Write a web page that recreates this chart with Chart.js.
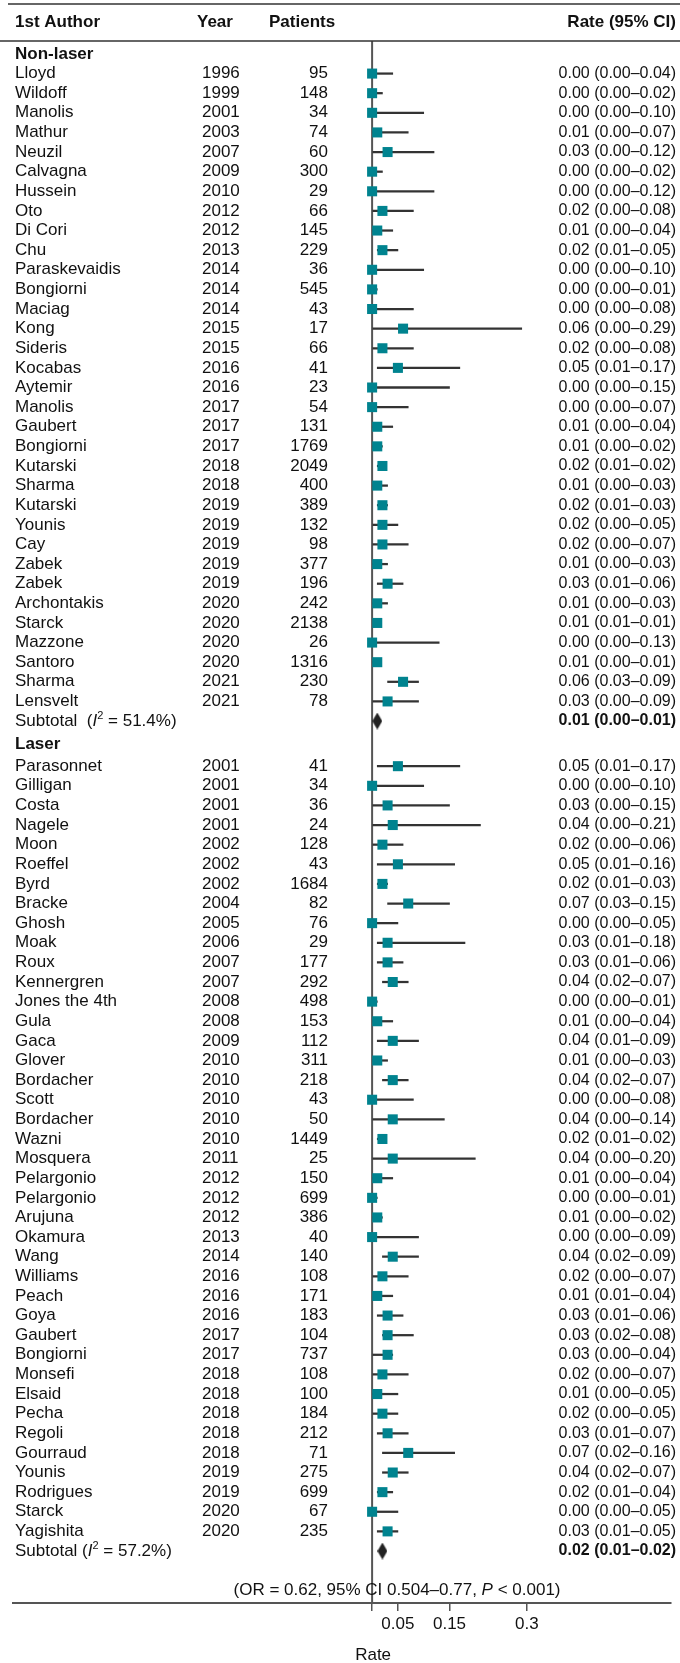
<!DOCTYPE html>
<html>
<head>
<meta charset="utf-8">
<title>Forest plot</title>
<script src="https://cdn.jsdelivr.net/npm/chart.js@4.4.1/dist/chart.umd.min.js"></script>
<style>
  html, body { margin: 0; padding: 0; background: #fff; }
  canvas { display: block; }
</style>
</head>
<body>
<canvas id="forest" width="680" height="1663"></canvas>
<script>
// ---- Non-laser studies ----
const nonLaserAuthors = ['Lloyd','Wildoff','Manolis','Mathur','Neuzil','Calvagna','Hussein','Oto','Di Cori','Chu',
  'Paraskevaidis','Bongiorni','Maciag','Kong','Sideris','Kocabas','Aytemir','Manolis','Gaubert','Bongiorni',
  'Kutarski','Sharma','Kutarski','Younis','Cay','Zabek','Zabek','Archontakis','Starck','Mazzone',
  'Santoro','Sharma','Lensvelt'];
const nonLaserYears = [1996,1999,2001,2003,2007,2009,2010,2012,2012,2013,
  2014,2014,2014,2015,2015,2016,2016,2017,2017,2017,
  2018,2018,2019,2019,2019,2019,2019,2020,2020,2020,
  2020,2021,2021];
const nonLaserPatients = [95,148,34,74,60,300,29,66,145,229,
  36,545,43,17,66,41,23,54,131,1769,
  2049,400,389,132,98,377,196,242,2138,26,
  1316,230,78];
const nonLaserRate = [0.00,0.00,0.00,0.01,0.03,0.00,0.00,0.02,0.01,0.02,
  0.00,0.00,0.00,0.06,0.02,0.05,0.00,0.00,0.01,0.01,
  0.02,0.01,0.02,0.02,0.02,0.01,0.03,0.01,0.01,0.00,
  0.01,0.06,0.03];
const nonLaserLow = [0.00,0.00,0.00,0.00,0.00,0.00,0.00,0.00,0.00,0.01,
  0.00,0.00,0.00,0.00,0.00,0.01,0.00,0.00,0.00,0.00,
  0.01,0.00,0.01,0.00,0.00,0.00,0.01,0.00,0.01,0.00,
  0.00,0.03,0.00];
const nonLaserHigh = [0.04,0.02,0.10,0.07,0.12,0.02,0.12,0.08,0.04,0.05,
  0.10,0.01,0.08,0.29,0.08,0.17,0.15,0.07,0.04,0.02,
  0.02,0.03,0.03,0.05,0.07,0.03,0.06,0.03,0.01,0.13,
  0.01,0.09,0.09];

// ---- Laser studies ----
const laserAuthors = ['Parasonnet','Gilligan','Costa','Nagele','Moon','Roeffel','Byrd','Bracke','Ghosh','Moak',
  'Roux','Kennergren','Jones the 4th','Gula','Gaca','Glover','Bordacher','Scott','Bordacher','Wazni',
  'Mosquera','Pelargonio','Pelargonio','Arujuna','Okamura','Wang','Williams','Peach','Goya','Gaubert',
  'Bongiorni','Monsefi','Elsaid','Pecha','Regoli','Gourraud','Younis','Rodrigues','Starck','Yagishita'];
const laserYears = [2001,2001,2001,2001,2002,2002,2002,2004,2005,2006,
  2007,2007,2008,2008,2009,2010,2010,2010,2010,2010,
  2011,2012,2012,2012,2013,2014,2016,2016,2016,2017,
  2017,2018,2018,2018,2018,2018,2019,2019,2020,2020];
const laserPatients = [41,34,36,24,128,43,1684,82,76,29,
  177,292,498,153,112,311,218,43,50,1449,
  25,150,699,386,40,140,108,171,183,104,
  737,108,100,184,212,71,275,699,67,235];
const laserRate = [0.05,0.00,0.03,0.04,0.02,0.05,0.02,0.07,0.00,0.03,
  0.03,0.04,0.00,0.01,0.04,0.01,0.04,0.00,0.04,0.02,
  0.04,0.01,0.00,0.01,0.00,0.04,0.02,0.01,0.03,0.03,
  0.03,0.02,0.01,0.02,0.03,0.07,0.04,0.02,0.00,0.03];
const laserLow = [0.01,0.00,0.00,0.00,0.00,0.01,0.01,0.03,0.00,0.01,
  0.01,0.02,0.00,0.00,0.01,0.00,0.02,0.00,0.00,0.01,
  0.00,0.00,0.00,0.00,0.00,0.02,0.00,0.01,0.01,0.02,
  0.00,0.00,0.00,0.00,0.01,0.02,0.02,0.01,0.00,0.01];
const laserHigh = [0.17,0.10,0.15,0.21,0.06,0.16,0.03,0.15,0.05,0.18,
  0.06,0.07,0.01,0.04,0.09,0.03,0.07,0.08,0.14,0.02,
  0.20,0.04,0.01,0.02,0.09,0.09,0.07,0.04,0.06,0.08,
  0.04,0.07,0.05,0.05,0.07,0.16,0.07,0.04,0.05,0.05];

// ---- Pooled estimates per group ----
const groupNames = ['Non-laser', 'Laser'];
const groupI2 = [51.4, 57.2];
const subtotalRate = [0.01, 0.02];
const subtotalLow = [0.00, 0.01];
const subtotalHigh = [0.01, 0.02];

// ---- Axis ----
const xTickValues = [0, 0.05, 0.15, 0.3];
const xTickLabels = ['', '0.05', '0.15', '0.3'];
const xAxisTitle = 'Rate';

// ---- Column headers and footnote ----
const columnHeaders = ['1st Author', 'Year', 'Patients', 'Rate (95% CI)'];
const comparisonNote = ['(OR = 0.62, 95% CI 0.504\u20130.77, ', 'P', ' < 0.001)'];

// Build row positions (one unit per table row, a little extra room around the second heading)
const groups = [
  { name: groupNames[0], authors: nonLaserAuthors, years: nonLaserYears, patients: nonLaserPatients,
    rate: nonLaserRate, low: nonLaserLow, high: nonLaserHigh, i2: groupI2[0], gap: '  ',
    sub: [subtotalRate[0], subtotalLow[0], subtotalHigh[0]] },
  { name: groupNames[1], authors: laserAuthors, years: laserYears, patients: laserPatients,
    rate: laserRate, low: laserLow, high: laserHigh, i2: groupI2[1], gap: ' ',
    sub: [subtotalRate[1], subtotalLow[1], subtotalHigh[1]] }
];
let rowCursor = 0;
groups.forEach((g, k) => {
  if (k > 0) rowCursor += 1.2;
  g.headingRow = rowCursor;
  rowCursor += (k > 0 ? 1.1 : 1);
  g.rows = g.authors.map((_, i) => rowCursor + i);
  rowCursor += g.authors.length;
  g.subtotalRow = rowCursor;
});
const headerRow = -1.6;
const noteRow = groups[1].subtotalRow + 2;

const fmt = v => v.toFixed(2);
const ciText = (r, lo, hi) => `${fmt(r)} (${fmt(lo)}\u2013${fmt(hi)})`;

// Dataset points
const whiskers = [];
const squares = [];
const diamonds = [];
groups.forEach(g => {
  g.rows.forEach((row, i) => {
    whiskers.push({ y: row, x: [g.low[i], g.high[i]] });
    squares.push({ x: g.rate[i], y: row });
  });
  diamonds.push({ x: g.sub[0], y: g.subtotalRow });
});

// Diamond marker for pooled estimates
const diamondImg = document.createElement('canvas');
diamondImg.width = 10; diamondImg.height = 17;
(() => {
  const c = diamondImg.getContext('2d');
  c.fillStyle = '#222';
  c.beginPath();
  c.moveTo(5, 0); c.lineTo(10, 8.5); c.lineTo(5, 17); c.lineTo(0, 8.5);
  c.closePath(); c.fill();
})();

const FONT = "'Liberation Sans', Arial, Helvetica, sans-serif";
const TEXT = '#111';

function drawRuns(ctx, x, y, runs, align) {
  let total = 0;
  runs.forEach(r => { ctx.font = r.font; total += ctx.measureText(r.t).width; });
  let cx = align === 'center' ? x - total / 2 : (align === 'right' ? x - total : x);
  runs.forEach(r => {
    ctx.font = r.font;
    ctx.textAlign = 'left';
    ctx.fillText(r.t, cx, y + (r.dy || 0));
    cx += ctx.measureText(r.t).width;
  });
}

const tablePlugin = {
  id: 'forestTable',
  beforeDatasetsDraw(chart) {
    const { ctx, chartArea, scales: { x } } = chart;
    const x0 = x.getPixelForValue(0);
    ctx.save();
    ctx.strokeStyle = '#555';
    ctx.lineWidth = 2;
    ctx.beginPath();
    ctx.moveTo(x0, chartArea.top);
    ctx.lineTo(x0, chartArea.bottom);
    ctx.stroke();
    ctx.restore();
  },
  afterDraw(chart) {
    const { ctx, chartArea, scales: { x, y } } = chart;
    const W = chart.width;
    const regular = `17px ${FONT}`;
    const bold = `bold 17px ${FONT}`;
    const italic = `italic 17px ${FONT}`;
    const rateFont = `16px ${FONT}`;
    const rateBold = `bold 16px ${FONT}`;
    const colAuthor = 15, colYear = 202, colYearHead = 197, colPatients = 328, colPatientsHead = 269, colRate = 676;

    ctx.save();
    // rules
    ctx.strokeStyle = '#666';
    ctx.lineWidth = 2;
    ctx.beginPath(); ctx.moveTo(8, 4); ctx.lineTo(W, 4); ctx.stroke();
    ctx.strokeStyle = '#333';
    ctx.lineWidth = 1.5;
    ctx.beginPath(); ctx.moveTo(0, chartArea.top); ctx.lineTo(W, chartArea.top); ctx.stroke();

    ctx.fillStyle = TEXT;
    ctx.textBaseline = 'middle';

    // header
    const hy = y.getPixelForValue(headerRow);
    ctx.font = bold;
    ctx.textAlign = 'left';
    ctx.fillText(columnHeaders[0], colAuthor, hy);
    ctx.fillText(columnHeaders[1], colYearHead, hy);
    ctx.fillText(columnHeaders[2], colPatientsHead, hy);
    ctx.textAlign = 'right';
    ctx.fillText(columnHeaders[3], colRate, hy);

    groups.forEach(g => {
      ctx.font = bold;
      ctx.textAlign = 'left';
      ctx.fillText(g.name, colAuthor, y.getPixelForValue(g.headingRow));
      g.rows.forEach((row, i) => {
        const py = y.getPixelForValue(row);
        ctx.font = regular;
        ctx.textAlign = 'left';
        ctx.fillText(g.authors[i], colAuthor, py);
        ctx.fillText(String(g.years[i]), colYear, py);
        ctx.textAlign = 'right';
        ctx.fillText(String(g.patients[i]), colPatients, py);
        ctx.font = rateFont;
        ctx.fillText(ciText(g.rate[i], g.low[i], g.high[i]), colRate, py);
      });
      const sy = y.getPixelForValue(g.subtotalRow);
      drawRuns(ctx, colAuthor, sy, [
        { t: 'Subtotal' + g.gap + '(', font: regular },
        { t: 'I', font: italic },
        { t: '2', font: `11px ${FONT}`, dy: -5 },
        { t: ' = ' + g.i2.toFixed(1) + '%)', font: regular }
      ], 'left');
      ctx.font = rateBold;
      ctx.textAlign = 'right';
      ctx.fillText(ciText(g.sub[0], g.sub[1], g.sub[2]), colRate, sy);
    });

    // comparison between groups
    drawRuns(ctx, 397, y.getPixelForValue(noteRow), [
      { t: comparisonNote[0], font: regular },
      { t: comparisonNote[1], font: italic },
      { t: comparisonNote[2], font: regular }
    ], 'center');

    // axis title
    ctx.font = regular;
    ctx.textAlign = 'center';
    ctx.fillText(xAxisTitle, x.getPixelForValue(0) + 1, 1655);
    ctx.restore();
  }
};

new Chart(document.getElementById('forest'), {
  type: 'scatter',
  data: {
    datasets: [
      {
        type: 'bar',
        indexAxis: 'y',
        data: whiskers,
        backgroundColor: '#333',
        borderWidth: 0,
        barThickness: 1.6,
        grouped: false,
        order: 3
      },
      {
        type: 'scatter',
        data: squares,
        pointStyle: 'rect',
        pointRadius: 7.1,
        pointBackgroundColor: '#00838f',
        pointBorderWidth: 0,
        order: 2
      },
      {
        type: 'scatter',
        data: diamonds,
        pointStyle: diamondImg,
        pointRadius: 8,
        order: 1
      }
    ]
  },
  options: {
    responsive: false,
    animation: false,
    events: [],
    layout: { padding: { top: 41, left: 13, right: 0, bottom: 0 } },
    plugins: { legend: { display: false }, tooltip: { enabled: false } },
    scales: {
      x: {
        type: 'linear',
        position: 'bottom',
        min: -0.696,
        max: 0.5793,
        afterBuildTicks: scale => { scale.ticks = xTickValues.map(v => ({ value: v })); },
        afterFit: scale => { scale.height = 60; },
        ticks: {
          font: { family: FONT, size: 17 },
          color: TEXT,
          padding: 3,
          maxRotation: 0,
          autoSkip: false,
          callback: (value) => xTickLabels[xTickValues.indexOf(value)] ?? ''
        },
        grid: { drawOnChartArea: false, drawTicks: true, tickLength: 8, color: '#555', lineWidth: 1.5 },
        border: { display: true, color: '#555', width: 2 },
        title: { display: false }
      },
      y: {
        type: 'linear',
        display: false,
        reverse: true,
        offset: false,
        min: -0.66,
        max: 78.95,
        grid: { offset: false }
      }
    }
  },
  plugins: [tablePlugin]
});
</script>
</body>
</html>
